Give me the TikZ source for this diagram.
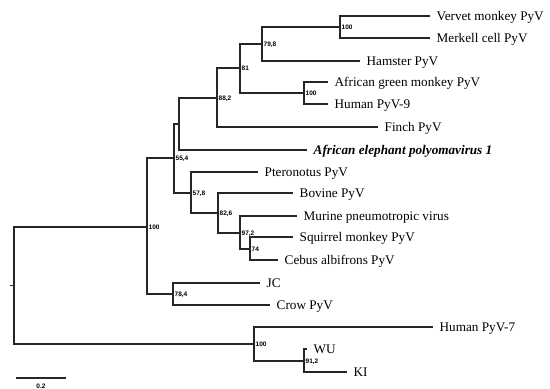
\documentclass[tikz,border=0pt]{standalone}
\usepackage{fontspec}
\setmainfont{Liberation Serif}
\newfontfamily\bsfont{Liberation Sans}
\begin{document}
\begin{tikzpicture}[x=1pt,y=-1pt,
  branch/.style={line width=1.2pt,draw=black!85},
  leaf/.style={anchor=west,inner xsep=6.5pt,inner ysep=0pt,text height=8.6pt,text depth=0pt,
    font=\fontsize{13.2}{15}\selectfont},
  boot/.style={anchor=west,inner xsep=1.5pt,inner ysep=0pt,text height=4.7pt,text depth=0pt,
    font=\bsfont\bfseries\fontsize{6.5}{8}\selectfont},
  scalelbl/.style={inner sep=0pt,font=\bsfont\bfseries\fontsize{6.5}{8}\selectfont}]
\useasboundingbox (0,0) rectangle (550,389);
% leaves
\node[leaf] (vervet) at (430,16) {Vervet monkey PyV};
\node[leaf] (merkell) at (430,38) {Merkell cell PyV};
\node[leaf] (hamster) at (360,61) {Hamster PyV};
\node[leaf] (agm) at (328,82) {African green monkey PyV};
\node[leaf] (hum9) at (328,104) {Human PyV-9};
\node[leaf] (finch) at (378,127) {Finch PyV};
\node[leaf] (eleph) at (307,150) {\bfseries\itshape African elephant polyomavirus 1};
\node[leaf] (ptero) at (258,172) {Pteronotus PyV};
\node[leaf] (bovine) at (293,193) {Bovine PyV};
\node[leaf] (murine) at (297,216) {Murine pneumotropic virus};
\node[leaf] (squirrel) at (293,237) {Squirrel monkey PyV};
\node[leaf] (cebus) at (278,260) {Cebus albifrons PyV};
\node[leaf] (jc) at (260,283) {JC};
\node[leaf] (crow) at (270,305) {Crow PyV};
\node[leaf] (hum7) at (433,327) {Human PyV-7};
\node[leaf] (wu) at (307,349) {WU};
\node[leaf] (ki) at (347,372) {KI};
% internal nodes
\coordinate (rootstub) at (10,285.5);
\coordinate (root) at (14,285.5);
\coordinate (nA) at (147,227);
\coordinate (nH) at (254,344);
\coordinate (n554) at (174,158);
\coordinate (n784) at (173,294);
\coordinate (nE) at (179,124);
\coordinate (n882) at (217,98);
\coordinate (n81) at (240,68);
\coordinate (n798) at (262,44);
\coordinate (n100a) at (340,27);
\coordinate (n100b) at (304,93);
\coordinate (n578) at (191,193);
\coordinate (n826) at (218,213);
\coordinate (n972) at (240,233);
\coordinate (n74) at (250,249);
\coordinate (n912) at (304,361);
% branches
\draw[branch] (rootstub) -- (root);
\draw[branch] (nA) -| (root) |- (nH);
\draw[branch] (n554) -| (nA) |- (n784);
\draw[branch] (nE) -| (n554) |- (n578);
\draw[branch] (n882) -| (nE) |- (eleph.west);
\draw[branch] (n81) -| (n882) |- (finch.west);
\draw[branch] (n798) -| (n81) |- (n100b);
\draw[branch] (n100a) -| (n798) |- (hamster.west);
\draw[branch] (vervet.west) -| (n100a) |- (merkell.west);
\draw[branch] (agm.west) -| (n100b) |- (hum9.west);
\draw[branch] (ptero.west) -| (n578) |- (n826);
\draw[branch] (bovine.west) -| (n826) |- (n972);
\draw[branch] (murine.west) -| (n972) |- (n74);
\draw[branch] (squirrel.west) -| (n74) |- (cebus.west);
\draw[branch] (jc.west) -| (n784) |- (crow.west);
\draw[branch] (hum7.west) -| (nH) |- (n912);
\draw[branch] (wu.west) -| (n912) |- (ki.west);
% bootstrap labels
\node[boot] (b1) at (nA) {100};
\node[boot] (b2) at (nH) {100};
\node[boot] (b3) at (n554) {55,4};
\node[boot] (b4) at (n784) {78,4};
\node[boot] (b5) at (n882) {88,2};
\node[boot] (b6) at (n81) {81};
\node[boot] (b7) at (n798) {79,8};
\node[boot] (b8) at (n100a) {100};
\node[boot] (b9) at (n100b) {100};
\node[boot] (b10) at (n578) {57,8};
\node[boot] (b11) at (n826) {82,6};
\node[boot] (b12) at (n972) {97,2};
\node[boot] (b13) at (n74) {74};
\node[boot] (b14) at (n912) {91,2};
% scale bar
\coordinate (sbL) at (16,378);
\coordinate (sbR) at (66,378);
\draw[branch] (sbL) -- (sbR);
\node[scalelbl] (sblbl) at (41,386) {0.2};
\end{tikzpicture}
\end{document}
